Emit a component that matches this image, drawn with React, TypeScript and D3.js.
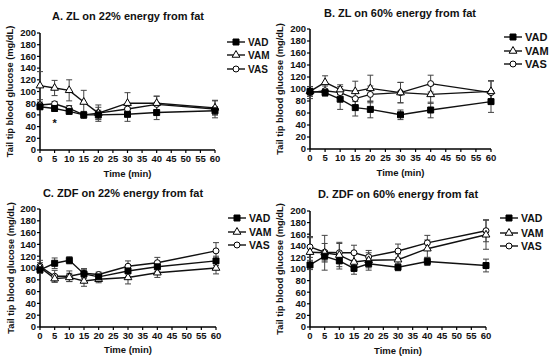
import * as d3 from "d3";

// Tail tip blood glucose after injection, 4 panels, mean ± SEM.
const times = [0, 5, 10, 15, 20, 30, 40, 60];
const groups = ["VAD", "VAM", "VAS"];
const yTicks = [0, 20, 40, 60, 80, 100, 120, 140, 160, 180, 200];
const xTicks = [0, 5, 10, 15, 20, 25, 30, 35, 40, 45, 50, 55, 60];

// A. ZL on 22%
const aVAD = [74, 71, 66, 60, 60, 61, 64, 67];
const aVADerr = [5, 5, 4, 5, 8, 12, 12, 7];
const aVAM = [110, 106, 102, 82, 63, 80, 80, 72];
const aVAMerr = [24, 13, 18, 20, 14, 18, 12, 12];
const aVAS = [77, 79, 71, 60, 63, 70, 78, 70];
const aVASerr = [5, 4, 5, 6, 10, 8, 14, 15];

// B. ZL on 60%
const bVAD = [96, 94, 83, 69, 66, 57, 65, 79];
const bVADerr = [8, 6, 17, 14, 14, 8, 13, 18];
const bVAM = [96, 111, 99, 96, 101, 94, 91, 96];
const bVAMerr = [8, 11, 8, 17, 22, 17, 15, 18];
const bVAS = [94, 97, 94, 84, 91, 94, 109, 94];
const bVASerr = [10, 8, 10, 13, 14, 17, 14, 19];

// C. ZDF on 22%
const cVAD = [97, 108, 113, 90, 85, 95, 102, 112];
const cVADerr = [6, 9, 6, 7, 5, 9, 8, 8];
const cVAM = [101, 82, 84, 78, 81, 84, 92, 100];
const cVAMerr = [8, 6, 7, 9, 6, 11, 8, 10];
const cVAS = [103, 86, 86, 91, 89, 103, 109, 129];
const cVASerr = [10, 10, 9, 8, 4, 9, 9, 14];

// D. ZDF on 60%
const dVAD = [107, 122, 114, 101, 109, 103, 113, 106];
const dVADerr = [8, 10, 14, 10, 11, 6, 7, 11];
const dVAM = [129, 128, 124, 112, 115, 116, 135, 159];
const dVAMerr = [25, 30, 20, 15, 13, 10, 15, 25];
const dVAS = [138, 129, 128, 128, 121, 131, 145, 166];
const dVASerr = [18, 15, 18, 13, 11, 12, 13, 19];

const FONT = "'Liberation Sans', Arial, sans-serif";

type Series = { mean: number[]; err: number[] };

type PanelProps = {
  title: string;
  series: Series[];
  left: number;
  right: number;
  top: number;
  bottom: number;
  titleX: number;
  titleY: number;
  xLabelY: number;
  yLabelX: number;
  legX: number;
  legY: number[];
  legFont: number;
  star?: boolean;
};

const shapes = [d3.symbolSquare, d3.symbolTriangle, d3.symbolCircle];
const sizes = [36, 26, 28];
const fills = ["#000", "#fff", "#fff"];

function Marker({ i, x, y }: { i: number; x: number; y: number }) {
  const p = d3.symbol(shapes[i], sizes[i])() as string;
  return <path d={p} transform={`translate(${x},${y})`} fill={fills[i]} stroke="#000" strokeWidth={1} />;
}

function Panel(p: PanelProps) {
  const x = d3.scaleLinear().domain([0, 60]).range([p.left, p.right]);
  const y = d3.scaleLinear().domain([0, 200]).range([p.bottom, p.top]);
  const line = d3
    .line<number>()
    .x((_, k) => x(times[k]))
    .y((v) => y(v));
  const order = [2, 1, 0];
  return (
    <g fontFamily={FONT} fontWeight="bold" fill="#111">
      <text x={p.titleX} y={p.titleY} textAnchor="middle" fontSize={11}>
        {p.title}
      </text>
      {/* axes */}
      <line x1={p.left} x2={p.left} y1={y(0)} y2={y(200)} stroke="#000" strokeWidth={1.5} />
      <line x1={p.left} x2={x(60)} y1={y(0)} y2={y(0)} stroke="#000" strokeWidth={1.5} />
      {yTicks.map((t) => (
        <g key={"y" + t}>
          <line x1={p.left - 3} x2={p.left} y1={y(t)} y2={y(t)} stroke="#000" strokeWidth={1.2} />
          <text x={p.left - 4} y={y(t) + 3.3} textAnchor="end" fontSize={9.5}>
            {t}
          </text>
        </g>
      ))}
      {xTicks.map((t) => (
        <g key={"x" + t}>
          <line x1={x(t)} x2={x(t)} y1={y(0)} y2={y(0) + 3} stroke="#000" strokeWidth={1.2} />
          <text x={x(t)} y={y(0) + 12} textAnchor="middle" fontSize={9.5}>
            {t}
          </text>
        </g>
      ))}
      <text x={(p.left + p.right) / 2} y={p.xLabelY} textAnchor="middle" fontSize={9.5}>
        Time (min)
      </text>
      <text
        transform={`translate(${p.yLabelX},${(p.top + p.bottom) / 2}) rotate(-90)`}
        textAnchor="middle"
        fontSize={9.3}
      >
        Tail tip blood glucose (mg/dL)
      </text>
      {/* error bars */}
      {order.map((i) =>
        p.series[i].mean.map((m, k) => {
          const e = p.series[i].err[k];
          const cx = x(times[k]);
          return (
            <g key={`e${i}-${k}`} stroke="#444" strokeWidth={1}>
              <line x1={cx} x2={cx} y1={y(m - e)} y2={y(m + e)} />
              <line x1={cx - 3} x2={cx + 3} y1={y(m - e)} y2={y(m - e)} />
              <line x1={cx - 3} x2={cx + 3} y1={y(m + e)} y2={y(m + e)} />
            </g>
          );
        })
      )}
      {order.map((i) => (
        <path key={"l" + i} d={line(p.series[i].mean) as string} fill="none" stroke="#111" strokeWidth={1.4} />
      ))}
      {order.map((i) =>
        p.series[i].mean.map((m, k) => <Marker key={`m${i}-${k}`} i={i} x={x(times[k])} y={y(m)} />)
      )}
      {p.star && (
        <text x={x(5)} y={y(40)} textAnchor="middle" fontSize={11}>
          *
        </text>
      )}
      {/* legend */}
      {groups.map((g, i) => (
        <g key={g}>
          <line x1={p.legX - 9} x2={p.legX + 9} y1={p.legY[i]} y2={p.legY[i]} stroke="#111" strokeWidth={1.4} />
          <Marker i={i} x={p.legX} y={p.legY[i]} />
          <text x={p.legX + 12} y={p.legY[i] + p.legFont * 0.36} fontSize={p.legFont}>
            {g}
          </text>
        </g>
      ))}
    </g>
  );
}

export default function App() {
  return (
    <svg
      width={550}
      height={360}
      viewBox="0 0 550 360"
      style={{ position: "absolute", left: 0, top: 0, background: "#fff" }}
    >
      <rect width={550} height={360} fill="#fff" />
      <Panel
        title="A. ZL on 22% energy from fat"
        series={[
          { mean: aVAD, err: aVADerr },
          { mean: aVAM, err: aVAMerr },
          { mean: aVAS, err: aVASerr },
        ]}
        left={40}
        right={215}
        top={33}
        bottom={150}
        titleX={128}
        titleY={20}
        xLabelY={177}
        yLabelX={13}
        legX={236}
        legY={[42, 55, 69]}
        legFont={10}
        star
      />
      <Panel
        title="B. ZL on 60% energy from fat"
        series={[
          { mean: bVAD, err: bVADerr },
          { mean: bVAM, err: bVAMerr },
          { mean: bVAS, err: bVASerr },
        ]}
        left={310}
        right={491}
        top={29}
        bottom={149}
        titleX={400}
        titleY={17}
        xLabelY={176}
        yLabelX={283}
        legX={513}
        legY={[37, 51, 64]}
        legFont={11}
      />
      <Panel
        title="C. ZDF on 22% energy from fat"
        series={[
          { mean: cVAD, err: cVADerr },
          { mean: cVAM, err: cVAMerr },
          { mean: cVAS, err: cVASerr },
        ]}
        left={40}
        right={216}
        top={209}
        bottom={327}
        titleX={123}
        titleY={197}
        xLabelY={353}
        yLabelX={14}
        legX={237}
        legY={[218, 232, 245]}
        legFont={10.5}
      />
      <Panel
        title="D. ZDF on 60% energy from fat"
        series={[
          { mean: dVAD, err: dVADerr },
          { mean: dVAM, err: dVAMerr },
          { mean: dVAS, err: dVASerr },
        ]}
        left={310}
        right={486}
        top={211}
        bottom={327}
        titleX={398}
        titleY={198}
        xLabelY={354}
        yLabelX={283}
        legX={509}
        legY={[218, 233, 246]}
        legFont={10.5}
      />
    </svg>
  );
}
